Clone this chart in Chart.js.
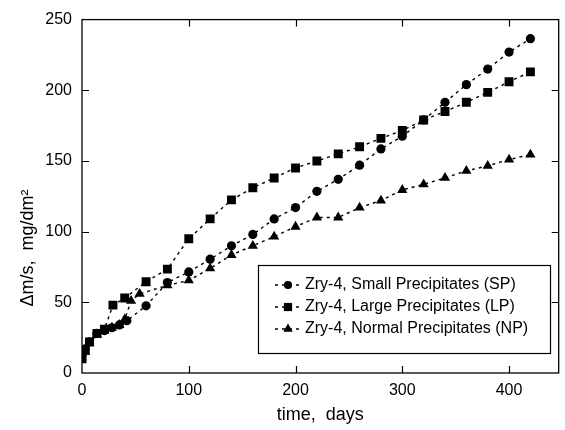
<!DOCTYPE html>
<html>
<head>
<meta charset="utf-8">
<script src="https://cdn.jsdelivr.net/npm/chart.js@4.4.0/dist/chart.umd.min.js"></script>
<style>
  html, body { margin: 0; padding: 0; background: #fff; }
  #wrap { width: 565px; height: 430px; }
</style>
</head>
<body>
<div id="wrap"><canvas id="chart" width="565" height="430"></canvas></div>
<script>
// mass gain (mg/dm2) vs exposure time (days)
const daysSP = [0, 3, 7, 14, 21, 28, 35, 42, 60, 80, 100, 120, 140, 160, 180, 200, 220, 240, 260, 280, 300, 320, 340, 360, 380, 400, 420];
const massSP = [12, 17, 22, 28, 30, 32, 34, 37, 47.5, 64, 71.5, 80.5, 90, 98, 109, 117, 128.5, 137, 147, 158.5, 167.5, 179, 191.5, 204, 215, 227, 236.5];

const daysLP = [0, 3, 7, 14, 21, 29, 40, 60, 80, 100, 120, 140, 160, 180, 200, 220, 240, 260, 280, 300, 320, 340, 360, 380, 400, 420];
const massLP = [10, 16, 22, 28, 31, 48, 53, 64.5, 73.5, 95, 109, 122.5, 131, 138, 145, 150, 155, 160, 166, 171.5, 179, 185, 191.5, 198.5, 206, 213];

const daysNP = [0, 3, 7, 14, 21, 28, 35, 40, 46, 54, 80, 100, 120, 140, 160, 180, 200, 220, 240, 260, 280, 300, 320, 340, 360, 380, 400, 420];
const massNP = [11, 15, 21, 27, 30, 32, 34, 38, 51, 56, 62, 65.5, 74, 83.5, 90, 96.5, 103.5, 110, 110, 117, 122, 129.5, 133.5, 138, 143, 146.5, 151, 154.5];

// axis ticks: every 50 days / 25 mg, labels on every other one
const xTickValues = [0, 50, 100, 150, 200, 250, 300, 350, 400];
const yTickValues = [0, 25, 50, 75, 100, 125, 150, 175, 200, 225, 250];

const seriesNames = [
  'Zry-4, Small Precipitates (SP)',
  'Zry-4, Large Precipitates (LP)',
  'Zry-4, Normal Precipitates (NP)'
];
const xTitle = 'time,  days';
const yTitle = '\u0394m/s,  mg/dm\u00B2';

const FONT = '"Liberation Sans", Arial, Helvetica, sans-serif';

function points(days, mass) {
  return days.map((d, i) => ({ x: d, y: mass[i] }));
}

function makeSet(label, data, style, radius) {
  return {
    label: label,
    data: data,
    showLine: true,
    borderColor: '#000',
    backgroundColor: '#000',
    borderWidth: 1.4,
    borderDash: [3, 4],
    pointStyle: style,
    pointRadius: radius,
    pointBorderWidth: 0,
    pointHoverRadius: radius,
    tension: 0
  };
}

// filled marker, same shapes as chart.js draws
function marker(ctx, style, r, x, y) {
  ctx.beginPath();
  if (style === 'circle') {
    ctx.arc(x, y, r, 0, Math.PI * 2);
  } else if (style === 'rect') {
    const s = r * Math.SQRT1_2;
    ctx.rect(x - s, y - s, 2 * s, 2 * s);
  } else {
    ctx.moveTo(x, y - r);
    ctx.lineTo(x + r * Math.sin(Math.PI * 2 / 3), y - r * Math.cos(Math.PI * 2 / 3));
    ctx.lineTo(x - r * Math.sin(Math.PI * 2 / 3), y - r * Math.cos(Math.PI * 2 / 3));
    ctx.closePath();
  }
  ctx.fill();
}

// box frame with inward ticks on all four sides, y title, legend box
const framePlugin = {
  id: 'frame',
  afterDraw(chart) {
    const { ctx, chartArea: a, scales } = chart;
    const xs = scales.x, ys = scales.y;
    ctx.save();
    ctx.strokeStyle = '#000';
    ctx.lineWidth = 1.3;
    ctx.strokeRect(a.left, a.top, a.right - a.left, a.bottom - a.top);

    ctx.lineWidth = 1.2;
    ctx.beginPath();
    xs.ticks.forEach(t => {
      if (t.value === 0) return;
      const px = Math.round(xs.getPixelForValue(t.value)) + 0.5;
      const len = t.value % 100 === 0 ? 7 : 4;
      ctx.moveTo(px, a.bottom); ctx.lineTo(px, a.bottom - len);
      ctx.moveTo(px, a.top); ctx.lineTo(px, a.top + len);
    });
    ys.ticks.forEach(t => {
      if (t.value === 0 || t.value === 250) return;
      const py = Math.round(ys.getPixelForValue(t.value)) + 0.5;
      const len = t.value % 50 === 0 ? 7 : 4;
      ctx.moveTo(a.left, py); ctx.lineTo(a.left + len, py);
      ctx.moveTo(a.right, py); ctx.lineTo(a.right - len, py);
    });
    ctx.stroke();

    // y axis title, sits lower than the plot centre in the original
    ctx.fillStyle = '#000';
    ctx.font = '18px ' + FONT;
    ctx.textAlign = 'center';
    ctx.textBaseline = 'middle';
    ctx.translate(28, 248);
    ctx.rotate(-Math.PI / 2);
    ctx.fillText(yTitle, 0, 0);
    ctx.restore();

    // legend
    ctx.save();
    const bx = 258, by = 265, bw = 292, bh = 88;
    ctx.fillStyle = '#fff';
    ctx.fillRect(bx, by, bw, bh);
    ctx.strokeStyle = '#000';
    ctx.lineWidth = 1.2;
    ctx.strokeRect(bx + 0.5, by + 0.5, bw, bh);
    ctx.font = '16px ' + FONT;
    ctx.textBaseline = 'middle';
    chart.data.datasets.forEach((ds, i) => {
      const ly = 285 + i * 22;
      ctx.strokeStyle = '#000';
      ctx.lineWidth = 1.4;
      ctx.setLineDash([3, 4]);
      ctx.beginPath();
      ctx.moveTo(275, ly); ctx.lineTo(302, ly);
      ctx.stroke();
      ctx.setLineDash([]);
      ctx.fillStyle = '#000';
      marker(ctx, ds.pointStyle, ds.pointRadius - 0.5, 288, ly);
      ctx.fillText(ds.label, 305, ly);
    });
    ctx.restore();
  }
};

new Chart(document.getElementById('chart'), {
  type: 'scatter',
  data: {
    datasets: [
      makeSet(seriesNames[0], points(daysSP, massSP), 'circle', 4.6),
      makeSet(seriesNames[1], points(daysLP, massLP), 'rect', 6.3),
      makeSet(seriesNames[2], points(daysNP, massNP), 'triangle', 5.9)
    ]
  },
  options: {
    responsive: false,
    animation: false,
    devicePixelRatio: 1,
    layout: { padding: { top: 19, right: 3, left: 0, bottom: 0 } },
    plugins: {
      legend: { display: false },
      tooltip: { enabled: false }
    },
    scales: {
      x: {
        type: 'linear',
        min: 0,
        max: 446.5,
        grid: { display: false, drawTicks: false },
        border: { display: false },
        afterBuildTicks: s => { s.ticks = xTickValues.map(v => ({ value: v })); },
        ticks: {
          padding: 8,
          color: '#000',
          font: { family: FONT, size: 16 },
          maxRotation: 0,
          autoSkip: false,
          callback: v => (v % 100 === 0 ? v : null)
        },
        title: {
          display: true,
          text: xTitle,
          color: '#000',
          font: { family: FONT, size: 18 },
          padding: { top: -4 }
        },
        afterFit: s => { s.height = 57; }
      },
      y: {
        type: 'linear',
        min: 0,
        max: 250,
        grid: { display: false, drawTicks: false },
        border: { display: false },
        afterBuildTicks: s => { s.ticks = yTickValues.map(v => ({ value: v })); },
        ticks: {
          padding: 10,
          color: '#000',
          font: { family: FONT, size: 16 },
          autoSkip: false,
          callback: v => (v % 50 === 0 ? v : null)
        },
        afterFit: s => { s.width = 82; }
      }
    }
  },
  plugins: [framePlugin]
});
</script>
</body>
</html>
